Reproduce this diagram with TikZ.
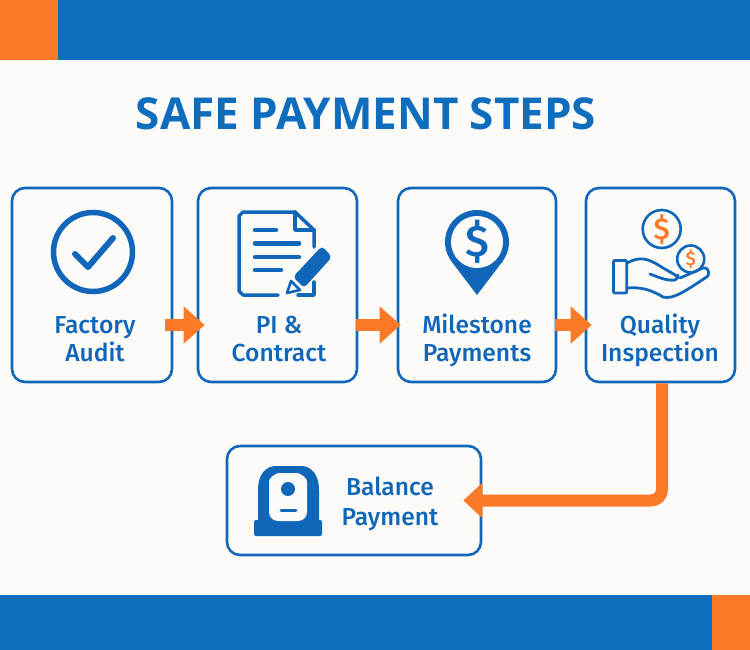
\documentclass[tikz,border=0pt]{standalone}
\usepackage{fontspec}
\setmainfont{Fira Sans Medium}
\newfontfamily\titlefont{Open Sans Bold}
\usetikzlibrary{arrows.meta}
\definecolor{payblue}{HTML}{1067B9}
\definecolor{bandblue}{HTML}{0F6DBE}
\definecolor{payorange}{HTML}{FB7A28}
\definecolor{paper}{HTML}{FDFBF8}
\begin{document}
\begin{tikzpicture}[x=1pt,y=-1pt,line width=2.6pt,
box/.style={draw=payblue,rounded corners=13pt,fill=paper,inner sep=0pt},
lab/.style={text=payblue,font=\fontsize{24.6}{28}\selectfont,align=center,inner sep=0pt,anchor=base},
flow/.style={draw=payorange,line width=12pt,-{Triangle[length=21pt,width=36pt,fill=payorange]}},
ico/.style={draw=payblue,line width=4.5pt,line cap=round,line join=round}]
\fill[paper] (0,0) rectangle (750,650);
\fill[bandblue] (0,0) rectangle (750,60);
\fill[payorange] (0,0) rectangle (58,60);
\fill[bandblue] (0,595) rectangle (750,650);
\fill[payorange] (712,595) rectangle (750,650);
\node[text=bandblue,font=\titlefont\fontsize{44}{48}\selectfont,inner sep=0pt] (title) at (366,114) {SAFE PAYMENT STEPS};
\foreach \i/\x/\w in {1/92/160,2/277.5/159,3/477/158,4/660.5/149}{\node[box,minimum width=\w pt,minimum height=194pt] (s\i) at (\x,285) {};};
\node[box,minimum width=254pt,minimum height=109pt] (s5) at (354,500.5) {};
\node[lab] (l1) at (95,361) {Factory\\Audit};
\node[lab] (l2) at (279,361) {PI \&\\Contract};
\node[lab] (l3) at (477,361) {Milestone\\Payments};
\node[lab] (l4) at (660,361) {Quality\\Inspection};
\node[lab] (l5) at (390,525) {Balance\\[2pt]Payment};
\draw[flow] ([xshift=-8pt,yshift=-40pt]s1.east) -- ([xshift=8pt,yshift=-40pt]s2.west);
\draw[flow] ([xshift=-2pt,yshift=-40pt]s2.east) -- ([xshift=4pt,yshift=-40pt]s3.west);
\draw[flow] ([xshift=-2pt,yshift=-40pt]s3.east) -- ([xshift=7pt,yshift=-40pt]s4.west);
\draw[flow,rounded corners=11pt,-{Triangle[length=19pt,width=34pt,fill=payorange]}] ([xshift=1.5pt]s4.south) |- ([xshift=-19pt]s5.east);
% audit
\draw[payblue,line width=5.5pt] (93,252) circle (39.5);
\draw[ico,line width=6pt] (75,254) -- (88,267) -- (113,238);
% contract
\draw[ico,line width=3.5pt] (278,295) -- (243,295) -- ++(-4,-4) -- (239,216) -- ++(4,-4) -- (295,212) -- (314,230) -- (314,247);
\draw[ico,line width=3.5pt] (295,212) -- (295,230) -- (314,230);
\draw[ico,line width=3.5pt] (314,282) -- (314,295) -- (298,295);
\foreach \y/\e in {230/276,243.5/299,257/299,270/281}{\draw[ico] (255,\y) -- (\e,\y);};
\fill[payblue,rounded corners=4pt] (293,277) -- (322,246) -- (332,257) -- (304,288) -- cycle;
\draw[ico,line width=2.6pt,fill=paper] (287,293) -- (291,281) -- (300,290) -- cycle;
% pin
\fill[payblue] (477,242) circle (32);
\fill[payblue] (477,295) -- (502.6,261.3) -- (451.4,261.3) -- cycle;
\fill[paper] (477,242) circle (26);
\node[text=payblue,font=\fontsize{44}{44}\selectfont,inner sep=0pt] (d1) at (477,242) {\$};
% hand
\draw[payblue,line width=2.6pt] (661.7,229) circle (19);
\node[text=payorange,font=\fontsize{30}{30}\selectfont,inner sep=0pt] (d2) at (661.7,229) {\$};
\draw[ico,line width=2.6pt] (690.7,259) circle (13.5);
\node[text=payorange,font=\fontsize{19}{19}\selectfont,inner sep=0pt] (d3) at (690.7,259) {\$};
\draw[ico,line width=2.8pt,rounded corners=1pt] (613.5,260.5) rectangle (626.7,293);
\draw[ico,line width=2.8pt] (627,263) .. controls (640,256) and (648,258) .. (663,268) .. controls (670,272) and (674,274) .. (678,277);
\draw[ico,line width=2.8pt] (650,274) .. controls (660,278) and (668,281) .. (675,280) .. controls (677,279) and (678,277) .. (678,275);
\draw[ico,line width=2.8pt] (627,288) .. controls (640,287) and (650,289) .. (663,297) .. controls (672,299) and (680,295) .. (708,276) .. controls (710,271) and (707,267) .. (703,268) -- (680,278);
% balance
\fill[payblue] (258,525) -- (258,490) .. controls (258,474) and (266,466) .. (276,466) -- (301,466) .. controls (311,466) and (319,474) .. (319,490) -- (319,525) -- cycle;
\fill[payblue,rounded corners=2pt] (254,520) rectangle (322,536);
\fill[paper,rounded corners=9pt] (269,521) -- (269,490) .. controls (269,478) and (276,473) .. (288,473) .. controls (300,473) and (307,478) .. (307,490) -- (307,521) -- cycle;
\fill[payblue] (288,489) circle (7);
\draw[ico,line width=3pt] (281,510.7) -- (296,510.7);
\end{tikzpicture}
\end{document}
